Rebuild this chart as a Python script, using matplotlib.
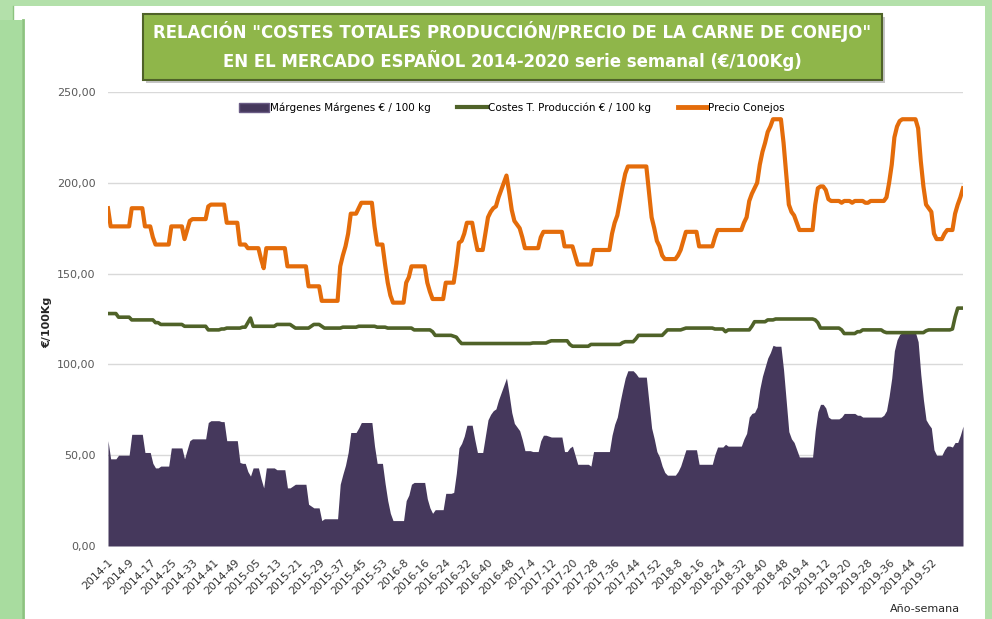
import numpy as np
import matplotlib.pyplot as plt
from matplotlib.patches import Rectangle
from matplotlib.lines import Line2D
from matplotlib.patches import Patch

# precio conejos, one row per year (2014 ... 2020)
precio = [
    186, 176, 176, 176, 176, 176, 176, 176, 176, 186, 186, 186, 186, 186, 176, 176, 176, 170, 166, 166, 166, 166, 166, 166, 176, 176,
    176, 176, 176, 169, 174, 179, 180, 180, 180, 180, 180, 180, 187, 188, 188, 188, 188, 188, 188, 178, 178, 178, 178, 178, 166, 166,
    # 2015
    166, 164, 164, 164, 164, 164, 158, 153, 164, 164, 164, 164, 164, 164, 164, 164, 154, 154, 154, 154, 154, 154, 154, 154, 143, 143, 143,
    143, 143, 135, 135, 135, 135, 135, 135, 135, 154, 160, 165, 172, 183, 183, 183, 186, 189, 189, 189, 189, 189, 176, 166, 166, 166,
    # 2016
    155, 145, 138, 134, 134, 134, 134, 134, 145, 148, 154, 154, 154, 154, 154, 154, 145, 140, 136, 136, 136, 136, 136, 145, 145, 145,
    145, 155, 167, 168, 172, 178, 178, 178, 170, 163, 163, 163, 172, 181, 184, 186, 187, 192, 196, 200, 204, 195, 185, 179, 177, 175,
    # 2017
    170, 164, 164, 164, 164, 164, 164, 170, 173, 173, 173, 173, 173, 173, 173, 173, 165, 165, 165, 165, 160, 155, 155, 155, 155, 155,
    155, 163, 163, 163, 163, 163, 163, 163, 172, 178, 182, 190, 198, 205, 209, 209, 209, 209, 209, 209, 209, 209, 195, 181, 175, 168,
    # 2018
    165, 160, 158, 158, 158, 158, 158, 160, 163, 168, 173, 173, 173, 173, 173, 165, 165, 165, 165, 165, 165, 170, 174, 174, 174, 174,
    174, 174, 174, 174, 174, 174, 178, 181, 190, 194, 197, 200, 210, 217, 222, 228, 231, 235, 235, 235, 235, 222, 205, 188, 184, 182,
    # 2019
    178, 174, 174, 174, 174, 174, 174, 188, 197, 198, 198, 196, 191, 190, 190, 190, 190, 189, 190, 190, 190, 189, 190, 190, 190, 190,
    189, 189, 190, 190, 190, 190, 190, 190, 192, 200, 210, 225, 231, 234, 235, 235, 235, 235, 235, 235, 230, 212, 198, 188, 186, 184,
    # 2020
    172, 169, 169, 169, 172, 174, 174, 174, 183, 188, 192, 197,
]

# costes totales de produccion
costes = [
    128, 128, 128, 128, 126, 126, 126, 126, 126, 124.5, 124.5, 124.5, 124.5, 124.5, 124.5, 124.5, 124.5, 124.5, 123, 123, 122, 122, 122, 122, 122, 122,
    122, 122, 122, 121, 121, 121, 121, 121, 121, 121, 121, 121, 119, 119, 119, 119, 119, 119.5, 119.5, 120, 120, 120, 120, 120, 120, 120.5,
    # 2015
    120.5, 123, 125.5, 121, 121, 121, 121, 121, 121, 121, 121, 121, 122, 122, 122, 122, 122, 122, 121, 120, 120, 120, 120, 120, 120, 121, 122,
    122, 122, 121, 120, 120, 120, 120, 120, 120, 120, 120.5, 120.5, 120.5, 120.5, 120.5, 120.5, 121, 121, 121, 121, 121, 121, 121, 120.5, 120.5, 120.5,
    # 2016
    120.5, 120, 120, 120, 120, 120, 120, 120, 120, 120, 120, 119, 119, 119, 119, 119, 119, 119, 118, 116, 116, 116, 116, 116, 116, 116,
    115.5, 115, 113, 111.5, 111.5, 111.5, 111.5, 111.5, 111.5, 111.5, 111.5, 111.5, 111.5, 111.5, 111.5, 111.5, 111.5, 111.5, 111.5, 111.5, 111.5, 111.5, 111.5, 111.5, 111.5, 111.5,
    # 2017
    111.5, 111.5, 111.5, 111.5, 111.8, 111.8, 111.8, 111.8, 111.8, 111.8, 112.5, 113, 113, 113, 113, 113, 113, 113, 111, 110, 110, 110, 110, 110, 110, 110,
    111, 111, 111, 111, 111, 111, 111, 111, 111, 111, 111, 111, 112, 112.5, 112.5, 112.5, 112.5, 114, 116, 116, 116, 116, 116, 116, 116, 116,
    # 2018
    116, 116, 117.5, 119, 119, 119, 119, 119, 119, 119.5, 120, 120, 120, 120, 120, 120, 120, 120, 120, 120, 120, 119.5, 119.5, 119.5, 119.5, 118,
    119, 119, 119, 119, 119, 119, 119, 119, 119, 121, 123.5, 123.5, 123.5, 123.5, 123.5, 124.5, 124.5, 124.5, 125, 125, 125, 125, 125, 125, 125, 125,
    # 2019
    125, 125, 125, 125, 125, 125, 125, 124.5, 123, 120, 120, 120, 120, 120, 120, 120, 120, 119, 117, 117, 117, 117, 117, 118, 118, 119,
    119, 119, 119, 119, 119, 119, 119, 118, 117.5, 117.5, 117.5, 117.5, 117.5, 117.5, 117.5, 117.5, 117.5, 117.5, 117.5, 117.5, 117.5, 117.5, 117.5, 118.5, 119, 119,
    # 2020
    119, 119, 119, 119, 119, 119, 119, 119.5, 126, 131, 131, 131,
]

# margenes
margenes = [
    58, 48, 48, 48, 50, 50, 50, 50, 50, 61.5, 61.5, 61.5, 61.5, 61.5, 51.5, 51.5, 51.5, 45.5, 43, 43, 44, 44, 44, 44, 54, 54,
    54, 54, 54, 48, 53, 58, 59, 59, 59, 59, 59, 59, 68, 69, 69, 69, 69, 68.5, 68.5, 58, 58, 58, 58, 58, 46, 45.5,
    # 2015
    45.5, 41, 38.5, 43, 43, 43, 37, 32, 43, 43, 43, 43, 42, 42, 42, 42, 32, 32, 33, 34, 34, 34, 34, 34, 23, 22, 21,
    21, 21, 14, 15, 15, 15, 15, 15, 15, 34, 39.5, 44.5, 51.5, 62.5, 62.5, 62.5, 65, 68, 68, 68, 68, 68, 55, 45.5, 45.5, 45.5,
    # 2016
    34.5, 25, 18, 14, 14, 14, 14, 14, 25, 28, 34, 35, 35, 35, 35, 35, 26, 21, 18, 20, 20, 20, 20, 29, 29, 29,
    29.5, 40, 54, 56.5, 60.5, 66.5, 66.5, 66.5, 58.5, 51.5, 51.5, 51.5, 60.5, 69.5, 72.5, 74.5, 75.5, 80.5, 84.5, 88.5, 92.5, 83.5, 73.5, 67.5, 65.5, 63.5,
    # 2017
    58.5, 52.5, 52.5, 52.5, 52, 52, 52, 58, 61, 61, 60.5, 60, 60, 60, 60, 60, 52, 52, 54, 55, 50, 45, 45, 45, 45, 45,
    44, 52, 52, 52, 52, 52, 52, 52, 61, 67, 71, 79, 86, 92.5, 96.5, 96.5, 96.5, 95, 93, 93, 93, 93, 79, 65, 59, 52,
    # 2018
    49, 44, 40.5, 39, 39, 39, 39, 41, 44, 48.5, 53, 53, 53, 53, 53, 45, 45, 45, 45, 45, 45, 50.5, 54.5, 54.5, 54.5, 56,
    55, 55, 55, 55, 55, 55, 59, 62, 71, 73, 73.5, 76.5, 86.5, 93.5, 98.5, 103.5, 106.5, 110.5, 110, 110, 110, 97, 80, 63, 59, 57,
    # 2019
    53, 49, 49, 49, 49, 49, 49, 63.5, 74, 78, 78, 76, 71, 70, 70, 70, 70, 71, 73, 73, 73, 73, 73, 72, 72, 71,
    71, 71, 71, 71, 71, 71, 71, 72, 74.5, 82.5, 92.5, 107.5, 113.5, 116.5, 117.5, 117.5, 117.5, 117.5, 117.5, 117.5, 112.5, 94.5, 80.5, 69.5, 67, 65,
    # 2020
    53, 50, 50, 50, 53, 55, 55, 54.5, 57, 57, 61, 66,
]

tick_labels = ['2014-1', '2014-9', '2014-17', '2014-25', '2014-33', '2014-41', '2014-49',
               '2015-05', '2015-13', '2015-21', '2015-29', '2015-37', '2015-45', '2015-53',
               '2016-8', '2016-16', '2016-24', '2016-32', '2016-40', '2016-48',
               '2017-4', '2017-12', '2017-20', '2017-28', '2017-36', '2017-44', '2017-52',
               '2018-8', '2018-16', '2018-24', '2018-32', '2018-40', '2018-48',
               '2019-4', '2019-12', '2019-20', '2019-28', '2019-36', '2019-44', '2019-52']

x = np.arange(len(precio))

W, H = 992, 619
fig = plt.figure(figsize=(W / 100, H / 100), dpi=100)
fig.patch.set_facecolor('#b3e0aa')

# white panel + left strip (drawn under the axes)
fig.patches.append(Rectangle((13 / W, 0), (985 - 13) / W, (H - 6) / H, transform=fig.transFigure,
                             facecolor='white', edgecolor='none', zorder=-2))
fig.patches.append(Rectangle((0, 0), 22 / W, (H - 20) / H, transform=fig.transFigure,
                             facecolor='#a8dc9f', edgecolor='none', zorder=-1))
fig.add_artist(Line2D([23 / W, 23 / W], [0, (H - 20) / H], color='#8cc37f', lw=2.0, zorder=-1))
fig.add_artist(Line2D([13 / W, 13 / W], [(H - 20) / H, (H - 6) / H], color='#8cc37f', lw=1.0, zorder=-1))

ax = fig.add_axes([108 / W, (H - 546) / H, 855 / W, 454 / H])
ax.set_facecolor('none')
ax.set_zorder(1)

ax.fill_between(x, margenes, 0, color='#45385c', lw=0, zorder=2)
ax.plot(x, costes, color='#4f6228', lw=2.6, solid_joinstyle='round', zorder=3)
ax.plot(x, precio, color='#e46c0a', lw=3.0, solid_joinstyle='round', zorder=4)

ax.set_xlim(0, len(precio) - 1)
ax.set_ylim(0, 250)
ax.set_yticks(np.arange(0, 251, 50))
ax.set_yticklabels([f'{v:.2f}'.replace('.', ',') for v in np.arange(0, 251, 50)],
                   fontsize=8, color='#595959')
ax.yaxis.grid(True, color='#d9d9d9', lw=1)
ax.set_axisbelow(True)
for s in ax.spines.values():
    s.set_visible(False)
ax.tick_params(axis='y', length=0, pad=9)

ax.set_xticks(np.arange(0, len(tick_labels) * 8, 8))
ax.set_xticklabels(tick_labels, rotation=45, ha='right', rotation_mode='anchor',
                   fontsize=7.8, color='#333333')
ax.tick_params(axis='x', length=0, pad=8)

fig.text(47 / W, 1 - 322 / H, '€/100Kg', rotation=90, ha='center', va='center',
         fontsize=8, fontweight='bold', color='#262626')
fig.text(960 / W, 1 - 609 / H, 'Año-semana', ha='right', va='center',
         fontsize=8, color='#262626')

# legend
handles = [Patch(facecolor='#45385c', edgecolor='#6a5c85'),
           Line2D([], [], color='#4f6228', lw=3),
           Line2D([], [], color='#e46c0a', lw=3.5)]
names = ['Márgenes Márgenes € / 100 kg', 'Costes T. Producción € / 100 kg', 'Precio Conejos']
fig.legend(handles, names, loc='center', bbox_to_anchor=(512 / W, 1 - 108 / H), ncol=3,
           frameon=False, fontsize=7.5, handlelength=2.8, handletextpad=0.1,
           columnspacing=2.6, handleheight=0.9)

# title box
fig.patches.append(Rectangle((146 / W, 1 - 83 / H), 739 / W, 66 / H, transform=fig.transFigure,
                             facecolor='#7f7f7f', alpha=0.45, edgecolor='none', zorder=1))
fig.patches.append(Rectangle((143 / W, 1 - 80 / H), 739 / W, 66 / H, transform=fig.transFigure,
                             facecolor='#8fb64a', edgecolor='#4f6228', lw=1.5, zorder=2))
fig.text(512 / W, 1 - 32 / H, 'RELACIÓN "COSTES TOTALES PRODUCCIÓN/PRECIO DE LA CARNE DE CONEJO"',
         ha='center', va='center', fontsize=13.2, fontweight='bold', color='white',
         fontstretch='condensed', zorder=3)
fig.text(512 / W, 1 - 61 / H, 'EN EL MERCADO ESPAÑOL 2014-2020 serie semanal (€/100Kg)',
         ha='center', va='center', fontsize=13.2, fontweight='bold', color='white',
         fontstretch='condensed', zorder=3)

fig.savefig('out.png', dpi=100, facecolor=fig.get_facecolor())
